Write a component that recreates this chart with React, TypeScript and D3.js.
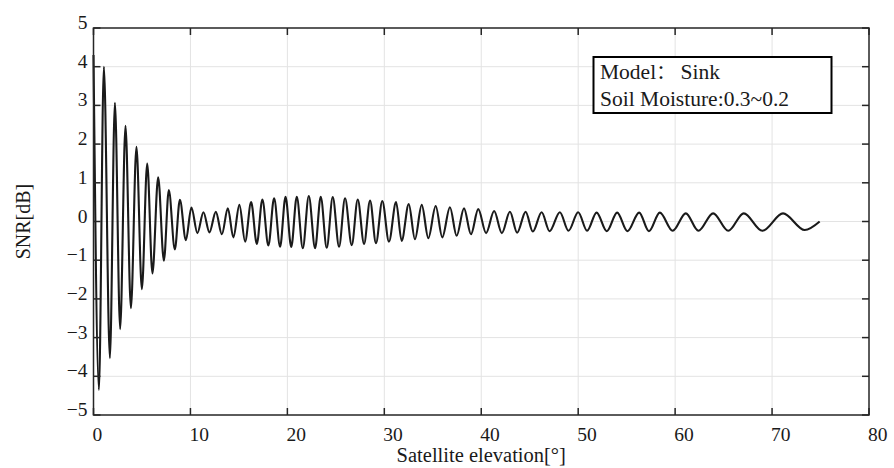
import React from "react";
import * as d3 from "d3";

// Turning points of the SNR oscillation (satellite elevation in degrees, SNR in dB)
const elevation = [
  0, 0.56, 1.07, 1.69, 2.21, 2.75, 3.3, 3.86, 4.43, 4.99,
  5.54, 6.08, 6.67, 7.26, 7.77, 8.39, 8.91, 9.53, 10.1, 10.72,
  11.34, 11.96, 12.62, 13.24, 13.86, 14.43, 15.05, 15.64, 16.26, 16.85,
  17.42, 18.04, 18.63, 19.25, 19.81, 20.4, 20.97, 21.59, 22.21, 22.86,
  23.44, 24.06, 24.68, 25.33, 25.95, 26.64, 27.26, 27.91, 28.53, 29.14,
  29.79, 30.48, 31.21, 31.79, 32.52, 33.16, 33.86, 34.54, 35.3, 35.98,
  36.77, 37.46, 38.22, 38.94, 39.69, 40.5, 41.33, 42.12, 42.96, 43.7,
  44.58, 45.32, 46.23, 47.05, 48.11, 49.0, 50.0, 50.92, 51.9, 52.95,
  54.02, 55.08, 56.29, 57.3, 58.42, 59.75, 61.1, 62.4, 63.92, 65.48,
  67.08, 69.0, 71.13, 73.37, 74.91,
];
const snr = [
  4.3, -4.35, 4.0, -3.53, 3.07, -2.78, 2.47, -2.24, 1.93, -1.75,
  1.5, -1.34, 1.14, -1.01, 0.81, -0.72, 0.56, -0.48, 0.36, -0.3,
  0.24, -0.28, 0.25, -0.33, 0.34, -0.41, 0.43, -0.52, 0.5, -0.58,
  0.57, -0.62, 0.6, -0.65, 0.64, -0.66, 0.64, -0.69, 0.66, -0.69,
  0.64, -0.68, 0.63, -0.65, 0.6, -0.61, 0.57, -0.58, 0.54, -0.56,
  0.53, -0.52, 0.5, -0.5, 0.45, -0.46, 0.43, -0.43, 0.4, -0.41,
  0.37, -0.37, 0.34, -0.33, 0.32, -0.3, 0.27, -0.3, 0.25, -0.29,
  0.25, -0.26, 0.24, -0.25, 0.24, -0.24, 0.24, -0.24, 0.23, -0.25,
  0.23, -0.25, 0.23, -0.25, 0.23, -0.24, 0.21, -0.24, 0.21, -0.24,
  0.21, -0.24, 0.21, -0.22, 0,
];

const xTicks = [0, 10, 20, 30, 40, 50, 60, 70, 80];
const yTicks = [-5, -4, -3, -2, -1, 0, 1, 2, 3, 4, 5];
const modelLabel = ["Model", "\uFF1A", " Sink"];
const moistureLabel = "Soil Moisture:0.3~0.2";
const xTitle = "Satellite elevation[\u00B0]";
const yTitle = "SNR[dB]";

const W = 894;
const H = 468;
const M = { left: 93.5, right: 869, top: 28, bottom: 415 };
const FONT = "'Liberation Serif', 'Times New Roman', serif";

export default function App() {
  const x = d3.scaleLinear().domain([0, 80]).range([M.left, M.right]);
  const y = d3.scaleLinear().domain([-5, 5]).range([M.bottom, M.top]);

  const pts: [number, number][] = elevation.map((e, i) => [e, snr[i]]);
  const line = d3
    .line<[number, number]>()
    .x((d) => x(d[0]))
    .y((d) => y(d[1]))
    .curve(d3.curveMonotoneX);

  const fmt = (v: number) => (v < 0 ? "\u2212" + Math.abs(v) : String(v));
  const axisColor = "#262626";
  const tickLen = 7;

  return (
    <svg
      width={W}
      height={H}
      style={{ position: "absolute", left: 0, top: 0, background: "#fff" }}
      fontFamily={FONT}
    >
      <rect x={0} y={0} width={W} height={H} fill="#fff" />
      {/* grid */}
      <g stroke="#e3e3e3" strokeWidth={1}>
        {xTicks.slice(1, -1).map((t) => (
          <line key={"gx" + t} x1={x(t)} x2={x(t)} y1={M.top} y2={M.bottom} />
        ))}
        {yTicks.slice(1, -1).map((t) => (
          <line key={"gy" + t} x1={M.left} x2={M.right} y1={y(t)} y2={y(t)} />
        ))}
      </g>

      {/* SNR curve */}
      <path
        d={line(pts) || ""}
        fill="none"
        stroke="#1a1a1a"
        strokeWidth={2.1}
        strokeLinejoin="round"
      />

      {/* axes box and ticks */}
      <g stroke={axisColor} strokeWidth={1.5} fill="none">
        <rect x={M.left} y={M.top} width={M.right - M.left} height={M.bottom - M.top} />
        {xTicks.map((t) => (
          <g key={"tx" + t}>
            <line x1={x(t)} x2={x(t)} y1={M.bottom} y2={M.bottom - tickLen} />
            <line x1={x(t)} x2={x(t)} y1={M.top} y2={M.top + tickLen} />
          </g>
        ))}
        {yTicks.map((t) => (
          <g key={"ty" + t}>
            <line x1={M.left} x2={M.left + tickLen} y1={y(t)} y2={y(t)} />
            <line x1={M.right} x2={M.right - tickLen} y1={y(t)} y2={y(t)} />
          </g>
        ))}
      </g>

      {/* tick labels */}
      <g fontSize={19.5} fill="#1a1a1a">
        {xTicks.map((t) => (
          <text key={"lx" + t} x={x(t) - 1} y={M.bottom + 26} textAnchor="start">
            {fmt(t)}
          </text>
        ))}
        {yTicks.map((t) => (
          <text key={"ly" + t} x={M.left - 6} y={y(t) + 1} textAnchor="end">
            {fmt(t)}
          </text>
        ))}
      </g>

      {/* axis titles */}
      <text
        x={(M.left + M.right) / 2}
        y={462}
        textAnchor="middle"
        fontSize={20.5}
        fill="#1a1a1a"
      >
        {xTitle}
      </text>
      <text
        transform={`translate(30, ${(M.top + M.bottom) / 2}) rotate(-90)`}
        textAnchor="middle"
        fontSize={20}
        fill="#1a1a1a"
      >
        {yTitle}
      </text>

      {/* annotation box */}
      <rect
        x={593.5}
        y={57}
        width={238}
        height={56}
        fill="#fff"
        stroke="#000"
        strokeWidth={2}
      />
      <text x={600} y={79} fontSize={21.5} fill="#1a1a1a">
        <tspan>{modelLabel[0]}</tspan>
        <tspan fontFamily="'Noto Sans CJK SC'" fontSize={19}>
          {modelLabel[1]}
        </tspan>
        <tspan>{modelLabel[2]}</tspan>
      </text>
      <text x={600} y={106} fontSize={21.5} fill="#1a1a1a">
        {moistureLabel}
      </text>
    </svg>
  );
}
